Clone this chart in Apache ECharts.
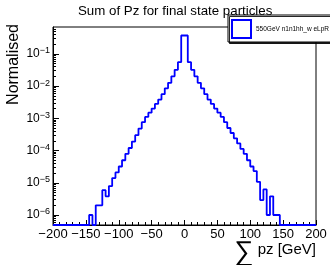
<!DOCTYPE html>
<html lang="en">
<head>
<meta charset="UTF-8">
<title>Sum of Pz for final state particles</title>
<script src="https://cdn.jsdelivr.net/npm/echarts@6/dist/echarts.min.js"></script>
<style>
    body { margin: 0; padding: 0; background: #fff; }
    #main { width: 330px; height: 265px; }
</style>
</head>
<body>
<div id="main"></div>
<script>
    // histogram: 80 bins of 5 GeV (0 = empty bin)
    var binEdges = [
        -200, -195, -190, -185, -180, -175, -170, -165, -160, -155,
        -150, -145, -140, -135, -130, -125, -120, -115, -110, -105,
        -100, -95, -90, -85, -80, -75, -70, -65, -60, -55,
        -50, -45, -40, -35, -30, -25, -20, -15, -10, -5,
        0, 5, 10, 15, 20, 25, 30, 35, 40, 45,
        50, 55, 60, 65, 70, 75, 80, 85, 90, 95,
        100, 105, 110, 115, 120, 125, 130, 135, 140, 145,
        150, 155, 160, 165, 170, 175, 180, 185, 190, 195,
        200
    ];
    var normalised = [
        0, 0, 0, 0, 0, 0, 0, 0, 0, 0,
        0, 1.0e-6, 0, 2.0e-6, 2.0e-6, 5.9e-6, 3.8e-6, 7.9e-6, 1.4e-5, 2.1e-5,
        3.2e-5, 5.0e-5, 7.9e-5, 1.2e-4, 1.9e-4, 3.0e-4, 4.8e-4, 7.6e-4, 1.1e-3, 1.5e-3,
        2.0e-3, 2.8e-3, 3.8e-3, 5.6e-3, 8.5e-3, 1.26e-2, 2.0e-2, 3.2e-2, 5.5e-2, 0.37,
        0.37, 5.5e-2, 3.2e-2, 2.0e-2, 1.26e-2, 8.5e-3, 5.6e-3, 3.8e-3, 2.8e-3, 2.0e-3,
        1.5e-3, 1.1e-3, 7.6e-4, 5.0e-4, 3.5e-4, 2.4e-4, 1.66e-4, 1.12e-4, 7.9e-5, 5.0e-5,
        3.2e-5, 2.3e-5, 1.07e-5, 2.9e-6, 6.2e-6, 1.0e-6, 3.8e-6, 1.0e-6, 1.0e-6, 0,
        0, 0, 0, 0, 0, 0, 0, 0, 0, 0
    ];
    var seriesName = '550GeV n1n1hh_w eLpR';
    var xRange = [-200, 200];
    var yRange = [4.9e-7, 0.68];
    var yDecades = [1e-6, 1e-5, 1e-4, 1e-3, 1e-2, 1e-1];

    var font = "'Liberation Sans', Arial, sans-serif";
    var MINUS = '\u2212';

    // empty bins sit on the axis floor like ROOT draws them
    var points = [];
    for (var i = 0; i < binEdges.length; i++) {
        var v = normalised[Math.min(i, normalised.length - 1)];
        points.push([binEdges[i], v > 0 ? v : yRange[0]]);
    }

    // log minor ticks (2..9 x 10^k), placed on a helper axis in log10 units
    var minorTickLogs = [];
    for (var k = -7; k <= 0; k++) {
        for (var m = 2; m <= 9; m++) {
            var t = Math.log10(m) + k;
            if (t > Math.log10(yRange[0]) && t < Math.log10(yRange[1])) minorTickLogs.push(t);
        }
    }

    var myChart = echarts.init(document.getElementById('main'), null, {renderer: 'canvas'});

    var option = {
        animation: false,
        backgroundColor: '#fff',
        textStyle: {fontFamily: font},
        title: {
            text: 'Sum of Pz for final state particles',
            left: 78,
            top: 5,
            padding: 0,
            textStyle: {fontSize: 13.3, fontWeight: 'normal', color: '#000', fontFamily: font}
        },
        legend: {
            data: [seriesName],
            left: 228,
            top: 15,
            padding: [4, 20, 3, 3],
            itemWidth: 19,
            itemHeight: 18,
            icon: 'rect',
            backgroundColor: '#fff',
            borderColor: '#000',
            borderWidth: 1,
            borderRadius: 0,
            shadowColor: 'rgba(0,0,0,0.85)',
            shadowBlur: 0,
            shadowOffsetX: 1.5,
            shadowOffsetY: 1.5,
            itemStyle: {color: 'rgba(0,0,0,0)', borderColor: '#0000ff', borderWidth: 2},
            textStyle: {fontSize: 6.5, color: '#000', fontFamily: font}
        },
        grid: {
            left: 53,
            right: 14,
            top: 27,
            bottom: 40,
            show: true,
            borderColor: '#000',
            borderWidth: 1,
            backgroundColor: 'transparent',
            outerBoundsMode: 'none'
        },
        xAxis: {
            type: 'value',
            min: xRange[0],
            max: xRange[1],
            interval: 50,
            name: '{sum|\u2211} pz [GeV]',
            nameLocation: 'end',
            nameGap: 0,
            nameMoveOverlap: false,
            nameTextStyle: {
                align: 'right',
                verticalAlign: 'top',
                padding: [9, 0, 0, 0],
                fontSize: 15,
                color: '#000',
                rich: {
                    sum: {fontSize: 27, color: '#000', verticalAlign: 'middle', padding: [5, 0, 0, 0]}
                }
            },
            axisLine: {show: true, onZero: false, lineStyle: {color: '#000', width: 1}},
            axisTick: {show: true, inside: true, length: 5, lineStyle: {color: '#000'}},
            minorTick: {show: true, splitNumber: 5, length: 3, lineStyle: {color: '#000'}},
            splitLine: {show: false},
            axisLabel: {
                fontSize: 13,
                color: '#000',
                margin: 3,
                formatter: function (v) { return v < 0 ? MINUS + (-v) : String(v); }
            }
        },
        yAxis: [{
            type: 'log',
            logBase: 10,
            min: yRange[0],
            max: yRange[1],
            position: 'left',
            name: 'Normalised',
            nameLocation: 'end',
            nameRotate: 90,
            nameGap: 3,
            nameMoveOverlap: false,
            nameTextStyle: {
                align: 'right',
                verticalAlign: 'bottom',
                padding: [0, 0, 31, 0],
                fontSize: 16,
                color: '#000'
            },
            axisLine: {show: true, onZero: false, lineStyle: {color: '#000', width: 1}},
            axisTick: {show: true, inside: true, length: 6, lineStyle: {color: '#000'}},
            minorTick: {show: false},
            splitLine: {show: false},
            axisLabel: {
                margin: 3,
                color: '#000',
                showMinLabel: false,
                showMaxLabel: false,
                formatter: function (v) {
                    for (var j = 0; j < yDecades.length; j++) {
                        if (Math.abs(v / yDecades[j] - 1) < 1e-6) {
                            var r = Math.round(Math.log10(yDecades[j]));
                            return '{b|10}{s|' + MINUS + (-r) + '}';
                        }
                    }
                    return '';
                },
                rich: {
                    b: {fontSize: 12, color: '#000', fontFamily: font},
                    s: {fontSize: 9, color: '#000', fontFamily: font, verticalAlign: 'top', padding: [0, 0, 6, 0]}
                }
            }
        }, {
            // helper axis: only draws the small log ticks
            type: 'value',
            min: Math.log10(yRange[0]),
            max: Math.log10(yRange[1]),
            position: 'left',
            offset: 0,
            axisLine: {show: false, onZero: false},
            axisTick: {show: true, inside: true, length: 3, customValues: minorTickLogs, lineStyle: {color: '#000'}},
            axisLabel: {show: false},
            splitLine: {show: false}
        }],
        series: [{
            name: seriesName,
            type: 'line',
            step: 'end',
            data: points,
            showSymbol: false,
            symbol: 'none',
            lineStyle: {color: '#0000ff', width: 1.8},
            itemStyle: {color: '#0000ff'}
        }]
    };

    myChart.setOption(option);
</script>
</body>
</html>
